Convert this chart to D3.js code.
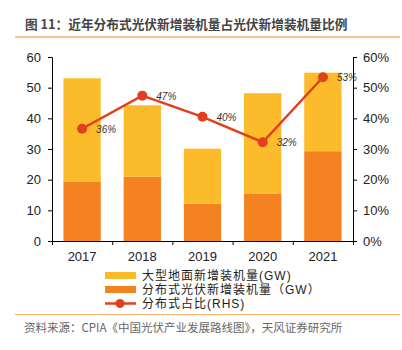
<!DOCTYPE html>
<html><head><meta charset="utf-8">
<script src="https://cdnjs.cloudflare.com/ajax/libs/d3/7.8.5/d3.min.js"></script>
<style>
body{margin:0;background:#fff;}
svg{display:block;font-family:"Liberation Sans",Arial,"Noto Sans CJK SC",sans-serif;}
</style></head>
<body><svg id="c" width="402" height="350"></svg>
<script>
const years = ["2017","2018","2019","2020","2021"];
const groundGW = [33.62, 23.30, 17.92, 32.68, 25.60];
const distributedGW = [19.44, 20.96, 12.19, 15.52, 29.28];
const ratio = [36.6, 47.4, 40.5, 32.2, 53.4];
const ratioLabels = ["36%","47%","40%","32%","53%"];
const leftTicks = [0,10,20,30,40,50,60];
const rightTicks = [0,10,20,30,40,50,60];
const legendLabels = ["大型地面新增装机量(GW)","分布式光伏新增装机量（GW）","分布式占比(RHS)"];
const title = "图 11：近年分布式光伏新增装机量占光伏新增装机量比例";
const source = "资料来源：CPIA《中国光伏产业发展路线图》，天风证券研究所";

const YELLOW = "#FBBB2B", ORANGE = "#F58220", RED = "#E0401E";
const svg = d3.select("#c");
const cjk = '"Noto Sans CJK SC",sans-serif';
const latinFirst = '"Liberation Sans","Noto Sans CJK SC",sans-serif';

svg.append("text").attr("x",25).attr("y",29).text(title)
  .attr("font-family",cjk).attr("font-size",12.7).attr("font-weight","bold").attr("fill","#444");
svg.append("line").attr("x1",15).attr("x2",400).attr("y1",37).attr("y2",37)
  .attr("stroke","#F6AE6E").attr("stroke-width",1.5);

const x = d3.scaleBand().domain(years).range([52,353]).paddingInner(0.38).paddingOuter(0.19);
const y = d3.scaleLinear().domain([0,60]).range([241,57]);
const yr = d3.scaleLinear().domain([0,60]).range([241,57]);

const stackData = years.map((yv,i)=>({year:yv, distributed:distributedGW[i], ground:groundGW[i]}));
const series = d3.stack().keys(["distributed","ground"])(stackData);
const colors = {distributed:ORANGE, ground:YELLOW};
svg.append("g").selectAll("g").data(series).join("g")
  .attr("fill",d=>colors[d.key])
  .selectAll("rect").data(d=>d).join("rect")
  .attr("x",d=>x(d.data.year)).attr("width",x.bandwidth())
  .attr("y",d=>y(d[1])).attr("height",d=>y(d[0])-y(d[1]));

// axes
const gl = svg.append("g").attr("transform","translate(52,0)")
  .call(d3.axisLeft(y).tickValues(leftTicks).tickSize(4).tickPadding(7));
const gr = svg.append("g").attr("transform","translate(353,0)")
  .call(d3.axisRight(yr).tickValues(rightTicks).tickSize(4).tickPadding(6).tickFormat(d=>d+"%"));
const xb = d3.scaleLinear().domain([0,5]).range([52,353]);
const gx = svg.append("g").attr("transform","translate(0,241)")
  .call(d3.axisBottom(xb).tickValues([0,1,2,3,4,5]).tickSize(4).tickFormat(""));
svg.append("g").selectAll("text").data(years).join("text")
  .attr("x",d=>x(d)+x.bandwidth()/2).attr("y",261).attr("text-anchor","middle")
  .attr("font-size",13).attr("fill","#222").text(d=>d);
[gl,gr,gx].forEach(g=>{
  g.select(".domain").attr("stroke","#000");
  g.selectAll(".tick line").attr("stroke","#000");
  g.selectAll("text").attr("font-size",13).attr("fill","#222").attr("font-family","Liberation Sans,Arial,sans-serif");
});

// line
const cx = i => x(years[i]) + x.bandwidth()/2;
const line = d3.line().x((d,i)=>cx(i)).y(d=>yr(d));
svg.append("path").datum(ratio).attr("d",line).attr("fill","none")
  .attr("stroke",RED).attr("stroke-width",2.5);
svg.append("g").selectAll("circle").data(ratio).join("circle")
  .attr("cx",(d,i)=>cx(i)).attr("cy",d=>yr(d)).attr("r",5).attr("fill",RED);
svg.append("g").selectAll("text").data(ratio).join("text")
  .attr("x",(d,i)=>cx(i)+14).attr("y",d=>yr(d)+4)
  .attr("font-size",10).attr("font-style","italic").attr("fill","#333")
  .text((d,i)=>ratioLabels[i]);

// legend
const lg = svg.append("g");
[YELLOW, ORANGE].forEach((c,i)=>{
  lg.append("rect").attr("x",105).attr("y",272+i*14).attr("width",31).attr("height",7).attr("fill",c);
});
lg.append("line").attr("x1",105).attr("x2",136).attr("y1",303.5).attr("y2",303.5).attr("stroke",RED).attr("stroke-width",2.5);
lg.append("circle").attr("cx",120).attr("cy",303.5).attr("r",4.5).attr("fill",RED);
lg.selectAll("text").data(legendLabels).join("text")
  .attr("x",142).attr("y",(d,i)=>279.5+i*14).attr("font-size",12).attr("letter-spacing",1).attr("fill","#222")
  .attr("font-family",latinFirst).text(d=>d);

svg.append("line").attr("x1",15).attr("x2",400).attr("y1",314.5).attr("y2",314.5)
  .attr("stroke","#F6AE6E").attr("stroke-width",1.2);
svg.append("text").attr("x",24).attr("y",332).attr("font-size",11.5).attr("fill","#666")
  .attr("font-family",cjk).text(source);
</script></body></html>
